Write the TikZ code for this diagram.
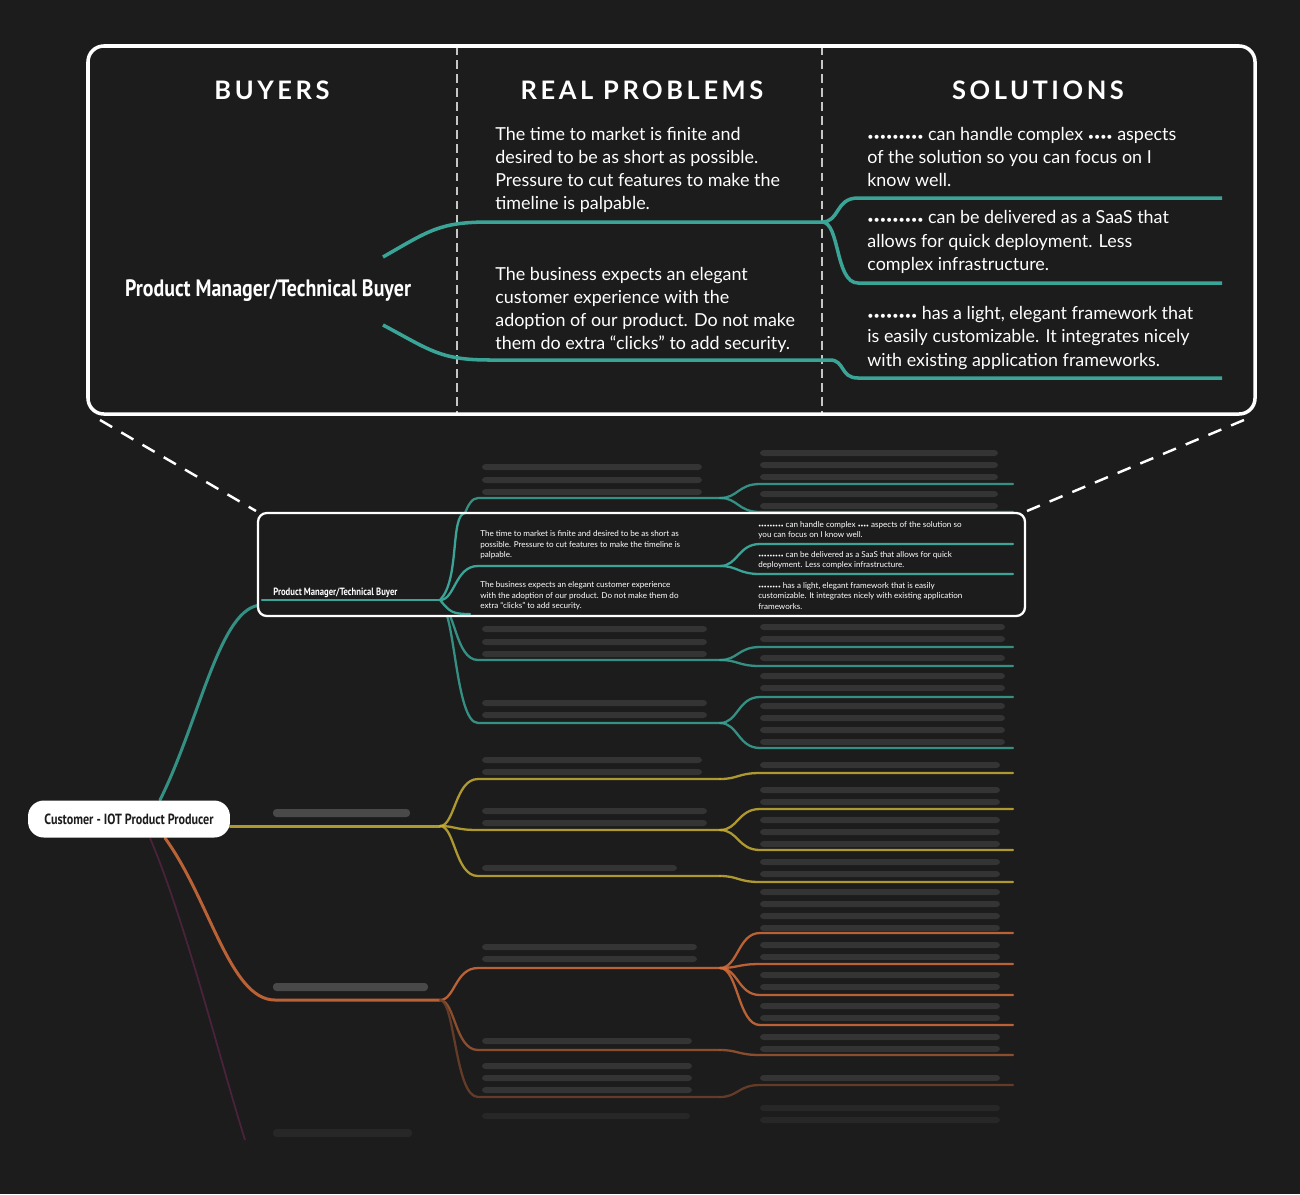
\documentclass[tikz,border=0pt]{standalone}
\usepackage{fontspec}
\setmainfont{Lato}
\newfontfamily\headfont[LetterSpace=14]{Lato}
\newfontfamily\labfont{PT Sans}
\usetikzlibrary{calc}
\definecolor{bg}{HTML}{1C1C1C}
\definecolor{tl}{HTML}{3AA597}
\definecolor{yl}{HTML}{C8AE34}
\definecolor{og}{HTML}{D66F3A}
\definecolor{pu}{HTML}{7A2A5A}
\tikzset{
  head/.style={text=white, font=\headfont\bfseries\fontsize{14.5}{16}\selectfont},
  body/.style={text=white, anchor=west, align=left, inner sep=0pt, font=\fontsize{10.2}{13.2}\selectfont},
  tiny/.style={text=white, anchor=west, align=left, inner sep=0pt, font=\fontsize{4.6}{6}\selectfont},
  lab/.style={text=white, inner sep=0pt, font=\labfont\bfseries},
  branch/.style={line width=1.7pt, line cap=round},
  twig/.style={line width=1.3pt, line cap=round},
  blur/.style={fill=gray!60, opacity=0.16, rounded corners=2pt}
}
% small bullets
\newcommand{\bul}[1]{{\scalebox{0.6}{#1}}}
% blurred text placeholder
\newcommand{\blurbar}[3]{\fill[blur] (#1,#2-3) rectangle (#1+#3,#2+3);}
% problem line with hub and two-sided solution branches
\newcommand{\probline}[3]{\draw[twig,#1] (440,#2) .. controls (455,#2) and (455,#3) .. (478,#3) -- (720,#3);}
\newcommand{\solline}[3]{\draw[twig,#1] (720,#2) .. controls (738,#2) and (738,#3) .. (760,#3) -- (1013,#3);}
\begin{document}
\begin{tikzpicture}[x=0.02cm,y=-0.02cm]
\fill[bg] (0,0) rectangle (1300,1194);

% ---------------- mind map (blurred part)
\begin{scope}[opacity=0.85]
% teal branch
\draw[branch,tl] (160,800) .. controls (200,720) and (220,605) .. (262,605) -- (440,605);
\foreach \y in {498,566,613,660,723}{\probline{tl}{605}{\y}}
\foreach \a/\b in {498/484,498/512,566/544,566/574,613/614,660/647,660/666,723/697,723/748}{\solline{tl}{\a}{\b}}
% yellow branch
\draw[branch,yl] (230,826) -- (440,826);
\foreach \y in {779,830,876}{\probline{yl}{826}{\y}}
\foreach \a/\b in {779/773,830/809,830/850,876/882}{\solline{yl}{\a}{\b}}
% orange branch
\draw[branch,og] (165,838) .. controls (210,900) and (230,1000) .. (275,1000) -- (440,1000);
\probline{og}{1000}{968}
\probline{og!70!bg}{1000}{1050}
\probline{og!45!bg}{1000}{1097}
\foreach \b in {933,964,995,1025}{\solline{og}{968}{\b}}
\solline{og!70!bg}{1050}{1055}
\solline{og!45!bg}{1097}{1085}
% purple branch
\draw[line width=1pt,pu!60!bg] (150,838) .. controls (185,920) and (220,1060) .. (245,1140);
\end{scope}

% blurred texts
\foreach \y in {467,480,492}{\blurbar{482}{\y}{220}}
\foreach \y in {629,642,654}{\blurbar{482}{\y}{225}}
\foreach \y in {703,715}{\blurbar{482}{\y}{225}}
\foreach \y in {760,772}{\blurbar{482}{\y}{220}}
\foreach \y in {811,823}{\blurbar{482}{\y}{225}}
\blurbar{482}{868}{195}
\foreach \y in {947,959}{\blurbar{482}{\y}{215}}
\blurbar{482}{1041}{210}
\foreach \y in {1066,1078,1090}{\blurbar{482}{\y}{210}}
\foreach \y in {453,465,477,494,506}{\blurbar{760}{\y}{238}}
\foreach \y in {627,639,658,676,688}{\blurbar{760}{\y}{245}}
\foreach \y in {706,718,730,742}{\blurbar{760}{\y}{245}}
\foreach \y in {765,790,802,820,832,844,862,874}{\blurbar{760}{\y}{240}}
\foreach \y in {892,904,916,928,945,957,975,987,1006,1018,1037,1049,1078}{\blurbar{760}{\y}{240}}
\fill[blur,opacity=0.3] (273,813-4) rectangle (410,813+4);
\fill[blur,opacity=0.3] (273,987-4) rectangle (428,987+4);
\fill[blur,opacity=0.08] (273,1133-4) rectangle (412,1133+4);
\fill[blur,opacity=0.08] (760,1108-3) rectangle (1000,1108+3);
\fill[blur,opacity=0.08] (760,1120-3) rectangle (1000,1120+3);
\fill[blur,opacity=0.08] (482,1116-3) rectangle (690,1116+3);

% root node
\node[fill=white, rounded corners=9pt, minimum width=4.04cm, minimum height=0.74cm, inner sep=0pt,
  font=\labfont\bfseries\fontsize{8.4}{9}\selectfont, text=bg] (root) at (129,819) {\scalebox{0.82}[1]{Customer - IOT Product Producer}};

% ---------------- small highlighted box
\fill[bg] (258,513) rectangle (1025,616);
\draw[tl,twig] (262,600) -- (440,600);
\draw[tl,twig] (440,600) .. controls (455,600) and (455,566) .. (478,566) -- (720,566);
\draw[tl,twig] (440,600) .. controls (460,580) and (450,515) .. (465,513);
\draw[tl,twig] (440,600) .. controls (450,612) and (452,614) .. (470,614);
\draw[tl,twig] (720,566) .. controls (738,566) and (738,544) .. (760,544) -- (1013,544);
\draw[tl,twig] (720,566) .. controls (738,566) and (738,574) .. (760,574) -- (1013,574);
\node[lab, anchor=west, font=\labfont\bfseries\fontsize{6}{7}\selectfont] (pmsmall) at (273,593) {\scalebox{0.82}[1]{Product Manager/Technical Buyer}};
\node[tiny] (p1small) at (480,545) {The time to market is finite and desired to be as short as\\possible. Pressure to cut features to make the timeline is\\palpable.};
\node[tiny] (p2small) at (480,596) {The business expects an elegant customer experience\\with the adoption of our product. Do not make them do\\extra “clicks” to add security.};
\node[tiny] (s1small) at (758,530) {\bul{•••••••••} can handle complex \bul{••••} aspects of the solution so\\you can focus on I know well.};
\node[tiny] (s2small) at (758,560) {\bul{•••••••••} can be delivered as a SaaS that allows for quick\\deployment. Less complex infrastructure.};
\node[tiny] (s3small) at (758,596) {\bul{••••••••} has a light, elegant framework that is easily\\customizable. It integrates nicely with existing application\\frameworks.};
\draw[white, line width=1.3pt, rounded corners=5pt] (258,513) rectangle (1025,616);

% dashed connectors
\draw[white, line width=1.4pt, dash pattern=on 8pt off 6pt] (100,420) -- (256,511);
\draw[white, line width=1.4pt, dash pattern=on 8pt off 6pt] (1244,420) -- (1027,511);

% ---------------- zoomed box
\fill[bg] (88,46) rectangle (1255,414);
\draw[white!75!bg, line width=1pt, dash pattern=on 5pt off 3pt] (457,46) -- (457,414);
\draw[white!75!bg, line width=1pt, dash pattern=on 5pt off 3pt] (822,46) -- (822,414);
\node[head] (hbuy) at (272,90) {BUYERS};
\node[head] (hprob) at (642,90) {REAL PROBLEMS};
\node[head] (hsol) at (1038,90) {SOLUTIONS};

\draw[tl, line width=2pt] (383,257) .. controls (430,230) and (440,222) .. (490,222) -- (822,222);
\draw[tl, line width=2pt] (383,325) .. controls (430,350) and (440,360) .. (490,360) -- (830,360)
  .. controls (845,360) and (840,378) .. (858,378) -- (1222,378);
\draw[tl, line width=2pt] (822,222) .. controls (840,222) and (835,198) .. (858,198) -- (1222,198);
\draw[tl, line width=2pt] (822,222) .. controls (840,222) and (835,283) .. (858,283) -- (1222,283);

\node[lab, font=\labfont\bfseries\fontsize{13.5}{15}\selectfont] (pmbig) at (268,291) {\scalebox{0.84}[1]{Product Manager/Technical Buyer}};
\node[body] (p1big) at (495,170) {The time to market is finite and\\desired to be as short as possible.\\Pressure to cut features to make the\\timeline is palpable.};
\node[body] (p2big) at (495,310) {The business expects an elegant\\customer experience with the\\adoption of our product. Do not make\\them do extra “clicks” to add security.};
\node[body] (s1big) at (867,157) {\bul{•••••••••} can handle complex \bul{••••} aspects\\of the solution so you can focus on I\\know well.};
\node[body] (s2big) at (867,242) {\bul{•••••••••} can be delivered as a SaaS that\\allows for quick deployment. Less\\complex infrastructure.};
\node[body] (s3big) at (867,338) {\bul{••••••••} has a light, elegant framework that\\is easily customizable. It integrates nicely\\with existing application frameworks.};
\draw[white, line width=2pt, rounded corners=9pt] (88,46) rectangle (1255,414);
\end{tikzpicture}
\end{document}
